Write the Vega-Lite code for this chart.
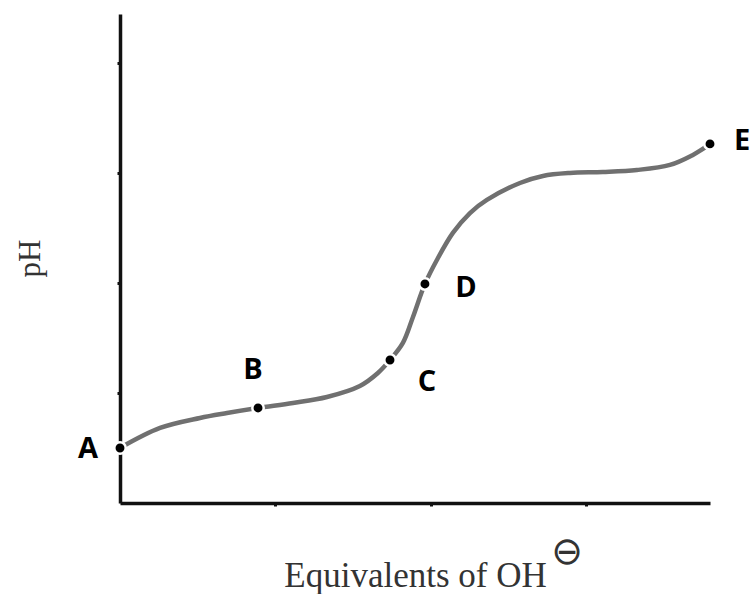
{
  "$schema": "https://vega.github.io/schema/vega-lite/v6.json",
  "width": 590,
  "height": 489,
  "autosize": {"type": "none"},
  "padding": {"left": 120, "top": 14, "right": 43, "bottom": 91},
  "background": "white",
  "config": {"view": {"stroke": null}},
  "datasets": {
    "curve": [
      {"x": 0, "y": 0.5},
      {"x": 0.258, "y": 0.682},
      {"x": 0.515, "y": 0.773},
      {"x": 0.689, "y": 0.818},
      {"x": 0.889, "y": 0.864},
      {"x": 1.114, "y": 0.909},
      {"x": 1.333, "y": 0.964},
      {"x": 1.545, "y": 1.064},
      {"x": 1.661, "y": 1.182},
      {"x": 1.739, "y": 1.3},
      {"x": 1.822, "y": 1.455},
      {"x": 1.887, "y": 1.691},
      {"x": 1.964, "y": 1.991},
      {"x": 2.041, "y": 2.209},
      {"x": 2.144, "y": 2.455},
      {"x": 2.254, "y": 2.636},
      {"x": 2.363, "y": 2.755},
      {"x": 2.576, "y": 2.909},
      {"x": 2.724, "y": 2.973},
      {"x": 2.898, "y": 3.0},
      {"x": 3.11, "y": 3.009},
      {"x": 3.329, "y": 3.027},
      {"x": 3.542, "y": 3.073},
      {"x": 3.69, "y": 3.164},
      {"x": 3.754, "y": 3.218},
      {"x": 3.8, "y": 3.264}
    ],
    "points": [
      {"x": 0, "y": 0.5, "label": "A"},
      {"x": 0.889, "y": 0.864, "label": "B"},
      {"x": 1.739, "y": 1.3, "label": "C"},
      {"x": 1.964, "y": 1.991, "label": "D"},
      {"x": 3.8, "y": 3.264, "label": "E"}
    ],
    "sup": [
      {"x": 2.88, "y": -0.45, "t": "⊖"}
    ]
  },
  "encoding": {
    "x": {
      "field": "x", "type": "quantitative",
      "scale": {"domain": [0, 3.8], "nice": false, "zero": false},
      "axis": {
        "title": "Equivalents of OH",
        "values": [1, 2, 3],
        "labels": false,
        "grid": false,
        "domainColor": "#111",
        "domainWidth": 3.5,
        "tickColor": "#111",
        "tickSize": 3,
        "tickWidth": 3,
        "titleFont": "Liberation Serif",
        "titleFontSize": 35,
        "titleFontWeight": "normal",
        "titleColor": "#333",
        "titleBaseline": "alphabetic",
        "titleY": 83,
        "titleX": 295
      }
    },
    "y": {
      "field": "y", "type": "quantitative",
      "scale": {"domain": [0, 4.445], "nice": false, "zero": false},
      "axis": {
        "title": "pH",
        "values": [1, 2, 3, 4],
        "labels": false,
        "grid": false,
        "domainColor": "#111",
        "domainWidth": 3.5,
        "tickColor": "#111",
        "tickSize": 3,
        "tickWidth": 3,
        "titleFont": "Liberation Serif",
        "titleFontSize": 31,
        "titleFontWeight": "normal",
        "titleColor": "#333",
        "titleAngle": -90,
        "titleBaseline": "middle",
        "titleAlign": "center",
        "titleX": -90,
        "titleY": 244
      }
    }
  },
  "layer": [
    {
      "data": {"name": "curve"},
      "mark": {"type": "line", "interpolate": "catmull-rom", "color": "#707070", "strokeWidth": 4.5}
    },
    {
      "data": {"name": "points"},
      "mark": {"type": "point", "filled": true, "shape": "circle", "size": 130, "color": "black", "stroke": "white", "strokeWidth": 2.5, "opacity": 1}
    },
    {
      "data": {"name": "points"},
      "transform": [{"filter": "datum.label == 'A'"}],
      "mark": {"type": "text", "font": "Open Sans", "fontWeight": "bold", "fontSize": 29, "color": "black", "dx": -32, "dy": 1, "baseline": "middle", "align": "center"},
      "encoding": {"text": {"field": "label"}}
    },
    {
      "data": {"name": "points"},
      "transform": [{"filter": "datum.label == 'B'"}],
      "mark": {"type": "text", "font": "Open Sans", "fontWeight": "bold", "fontSize": 29, "color": "black", "dx": -5, "dy": -38, "baseline": "middle", "align": "center"},
      "encoding": {"text": {"field": "label"}}
    },
    {
      "data": {"name": "points"},
      "transform": [{"filter": "datum.label == 'C'"}],
      "mark": {"type": "text", "font": "Open Sans", "fontWeight": "bold", "fontSize": 29, "color": "black", "dx": 37, "dy": 22, "baseline": "middle", "align": "center"},
      "encoding": {"text": {"field": "label"}}
    },
    {
      "data": {"name": "points"},
      "transform": [{"filter": "datum.label == 'D'"}],
      "mark": {"type": "text", "font": "Open Sans", "fontWeight": "bold", "fontSize": 29, "color": "black", "dx": 41, "dy": 4, "baseline": "middle", "align": "center"},
      "encoding": {"text": {"field": "label"}}
    },
    {
      "data": {"name": "points"},
      "transform": [{"filter": "datum.label == 'E'"}],
      "mark": {"type": "text", "font": "Open Sans", "fontWeight": "bold", "fontSize": 29, "color": "black", "dx": 32, "dy": -3, "baseline": "middle", "align": "center"},
      "encoding": {"text": {"field": "label"}}
    },
    {
      "data": {"name": "sup"},
      "mark": {"type": "text", "font": "DejaVu Sans", "fontSize": 38, "color": "#333", "baseline": "middle", "align": "center"},
      "encoding": {"text": {"field": "t"}}
    }
  ]
}
